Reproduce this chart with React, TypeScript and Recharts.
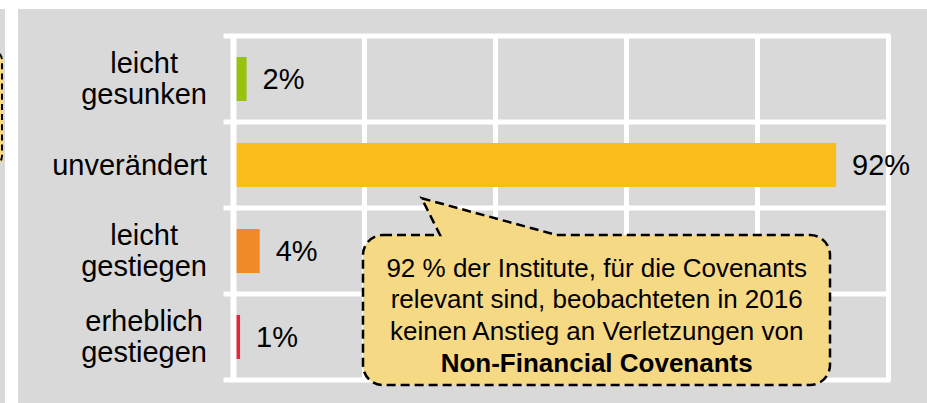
import React from 'react';
import { BarChart, Bar, XAxis, YAxis, CartesianGrid, Cell, LabelList } from 'recharts';

const categories = ['leicht\ngesunken', 'unverändert', 'leicht\ngestiegen', 'erheblich\ngestiegen'];
const values = [2, 92, 4, 1];
const barColors = ['#97c20f', '#f9bd1b', '#f08a28', '#e3263b'];
const xTicks = [0, 20, 40, 60, 80, 100];
const calloutLines = [
  '92 % der Institute, für die Covenants',
  'relevant sind, beobachteten in 2016',
  'keinen Anstieg an Verletzungen von',
];
const calloutBold = 'Non-Financial Covenants';

const data = categories.map((name, i) => ({ name, value: values[i] }));

const FONT = '"Liberation Sans", Arial, sans-serif';
const GREY = '#d9d9d9';

// Kategorie-Beschriftung: Zeilen zentriert, Block rechtsbündig
const CategoryTick = (props: any) => {
  const { x, y, payload } = props;
  return (
    <foreignObject x={x - 240} y={y - 60} width={240} height={120}>
      <div style={{ display: 'flex', justifyContent: 'flex-end', alignItems: 'center', height: '100%' }}>
        <div style={{ textAlign: 'center', whiteSpace: 'pre-line', fontSize: 29, lineHeight: '31px', color: '#000', fontFamily: FONT }}>
          {payload.value}
        </div>
      </div>
    </foreignObject>
  );
};

const GridH = (p: any) => (
  <line key={p.key} x1={p.x1 - 10} x2={p.x2 + 2} y1={p.y1} y2={p.y2} stroke="#fff" strokeWidth={5} />
);

export default function App() {
  return (
    <div style={{ position: 'absolute', left: 0, top: 0, width: 927, height: 403, background: '#fff', overflow: 'hidden', fontFamily: FONT }}>
      {/* Rest der Nachbargrafik links */}
      <div style={{ position: 'absolute', left: 0, top: 9, width: 5, height: 394, background: GREY, overflow: 'hidden' }}>
        <div style={{ position: 'absolute', left: -20, top: 41, width: 19, height: 112, border: '2.5px dashed #000', borderRadius: 10, background: '#f6d984' }} />
      </div>
      <div style={{ position: 'absolute', left: 18, top: 9, width: 909, height: 394, background: GREY }} />

      <div style={{ position: 'absolute', left: 0, top: 0 }}>
        <BarChart
          width={927}
          height={403}
          data={data}
          layout="vertical"
          margin={{ top: 36, right: 38.5, bottom: 23, left: 0 }}
          style={{ fontFamily: FONT }}
        >
          <CartesianGrid
            stroke="#fff"
            strokeWidth={5}
            horizontal={GridH}
            horizontalCoordinatesGenerator={({ offset }: any) =>
              [0, 1, 2, 3, 4].map((i) => offset.top + (i * offset.height) / categories.length)
            }
          />
          <XAxis type="number" domain={[0, 100]} ticks={xTicks} hide />
          <YAxis
            type="category"
            dataKey="name"
            width={233.5}
            axisLine={{ stroke: '#fff', strokeWidth: 6 }}
            tickLine={false}
            tickSize={0}
            tickMargin={26.5}
            tick={<CategoryTick />}
            interval={0}
          />
          <Bar dataKey="value" barSize={44} isAnimationActive={false}>
            {data.map((d, i) => (
              <Cell key={d.name} fill={barColors[i]} />
            ))}
            <LabelList
              dataKey="value"
              position="right"
              offset={16}
              formatter={(v: any) => `${v}%`}
              style={{ fontSize: 29, fill: '#000', fontFamily: FONT }}
            />
          </Bar>
        </BarChart>
      </div>

      {/* Sprechblase */}
      <svg width={927} height={403} style={{ position: 'absolute', left: 0, top: 0, pointerEvents: 'none' }}>
        <path
          d="M 383 235 L 440 235 L 421.7 198.3 L 556.7 235 L 810 235 A 20 20 0 0 1 830 255 L 830 365 A 20 20 0 0 1 810 385 L 383 385 A 20 20 0 0 1 363 365 L 363 255 A 20 20 0 0 1 383 235 Z"
          fill="#f6d984"
          stroke="#000"
          strokeWidth={2.5}
          strokeDasharray="9 5"
        />
        <text textAnchor="middle" fontSize={26} fontFamily={FONT} fill="#000">
          {calloutLines.map((l, i) => (
            <tspan key={i} x={596.7} y={276.7 + i * 31.7}>{l}</tspan>
          ))}
          <tspan x={596.7} y={276.7 + 3 * 31.7} fontWeight="bold">{calloutBold}</tspan>
        </text>
      </svg>
    </div>
  );
}
